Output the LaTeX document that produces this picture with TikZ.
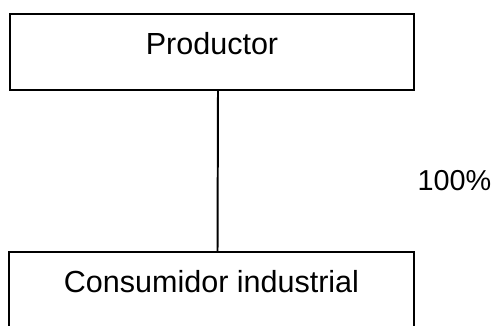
\documentclass[tikz,border=0pt]{standalone}
\usepackage{fontspec}
\setmainfont{Liberation Sans}
\begin{document}
\begin{tikzpicture}[x=0.025cm,y=-0.025cm,
    caja/.style={draw, line width=1.4pt, inner sep=0pt, minimum width=10.1cm, text height=1cm, anchor=north, font=\fontsize{21.7}{26}\selectfont}]
  \useasboundingbox (0,0) rectangle (493,325);
  \clip (0,0) rectangle (493,325);
  \node[caja, text depth=0.9cm] (prod) at (212,13) {Productor};
  \node[caja, text depth=1.3cm] (cons) at (211.5,251) {Consumidor industrial};
  \node[anchor=base, inner sep=0pt, font=\fontsize{20.5}{24}\selectfont] (pct) at (454.5,190) {100\%};

  \draw[line width=1.4pt] ([xshift=0.15cm]prod.south) -- ([xshift=0.15cm]cons.north);
\end{tikzpicture}
\end{document}
